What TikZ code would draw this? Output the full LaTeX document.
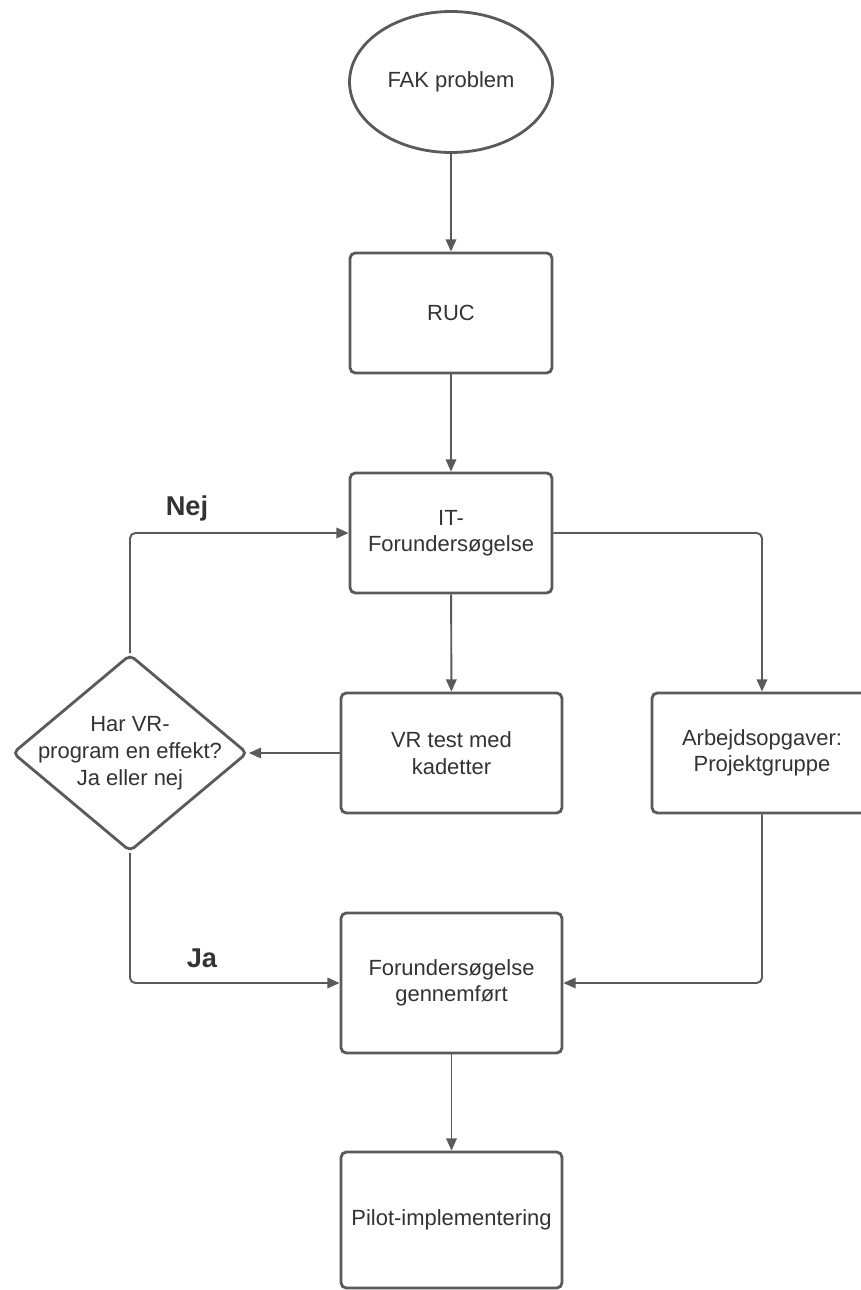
\documentclass[tikz,border=0pt]{standalone}
\usepackage{fontspec}
\setmainfont{Liberation Sans}
\usepackage{xcolor}
\usepackage{tikz}
\usetikzlibrary{shapes.geometric,arrows.meta,positioning}
\definecolor{linje}{HTML}{5A5A5A}
\definecolor{tekst}{HTML}{333333}

\begin{document}
\begin{tikzpicture}[x=0.02cm,y=-0.02cm,
    boks/.style={draw=linje,line width=1.6pt,fill=white,rounded corners=3pt,align=center,text=tekst,font=\fontsize{12.5}{15}\selectfont,inner sep=0pt},
    pil/.style={draw=linje,line width=1.1pt,rounded corners=3pt,-{Triangle[length=7pt,width=6pt]}},
    svar/.style={font=\bfseries\fontsize{15.5}{18}\selectfont,text=tekst}]
  \clip (0,0) rectangle (861,1290);
  \node[boks,ellipse,minimum width=4.06cm,minimum height=2.82cm] (fak) at (451,82) {FAK problem};
  \node[boks,minimum width=4.04cm,minimum height=2.4cm] (ruc) at (451,313) {RUC};
  \node[boks,minimum width=4.04cm,minimum height=2.4cm] (it) at (451,533) {IT-\\Forundersøgelse};
  \node[boks,minimum width=4.42cm,minimum height=2.4cm] (vr) at (451.5,753) {VR test med\\kadetter};
  \node[boks,minimum width=4.4cm,minimum height=2.4cm] (arb) at (762,753) {Arbejdsopgaver:\\Projektgruppe};
  \node[boks,diamond,minimum width=4.7cm,minimum height=3.94cm] (effekt) at (130,753) {};
  \node[align=center,text=tekst,font=\fontsize{12.5}{15.3}\selectfont] (effekttxt) at (effekt) {Har VR-\\program en effekt?\\Ja eller nej};
  \node[boks,minimum width=4.42cm,minimum height=2.8cm] (forund) at (451.5,983) {Forundersøgelse\\gennemført};
  \node[boks,minimum width=4.42cm,minimum height=2.72cm] (pilot) at (451.5,1220) {Pilot-implementering};

  \draw[pil] (fak) -- (ruc);
  \draw[pil] (ruc) -- (it);
  \draw[pil] (it) -- (vr);
  \draw[pil] (it.east) -| (arb.north);
  \draw[pil] (vr.west) -- (effekt.east);
  \draw[pil] (effekt.north) |- (it.west);
  \draw[pil] (effekt.south) |- (forund.west);
  \draw[pil] (arb.south) |- (forund.east);
  \draw[pil] (forund) -- (pilot);

  \node[svar] (nej) at (187,508) {Nej};
  \node[svar] (ja) at (202,958) {Ja};
\end{tikzpicture}
\end{document}
